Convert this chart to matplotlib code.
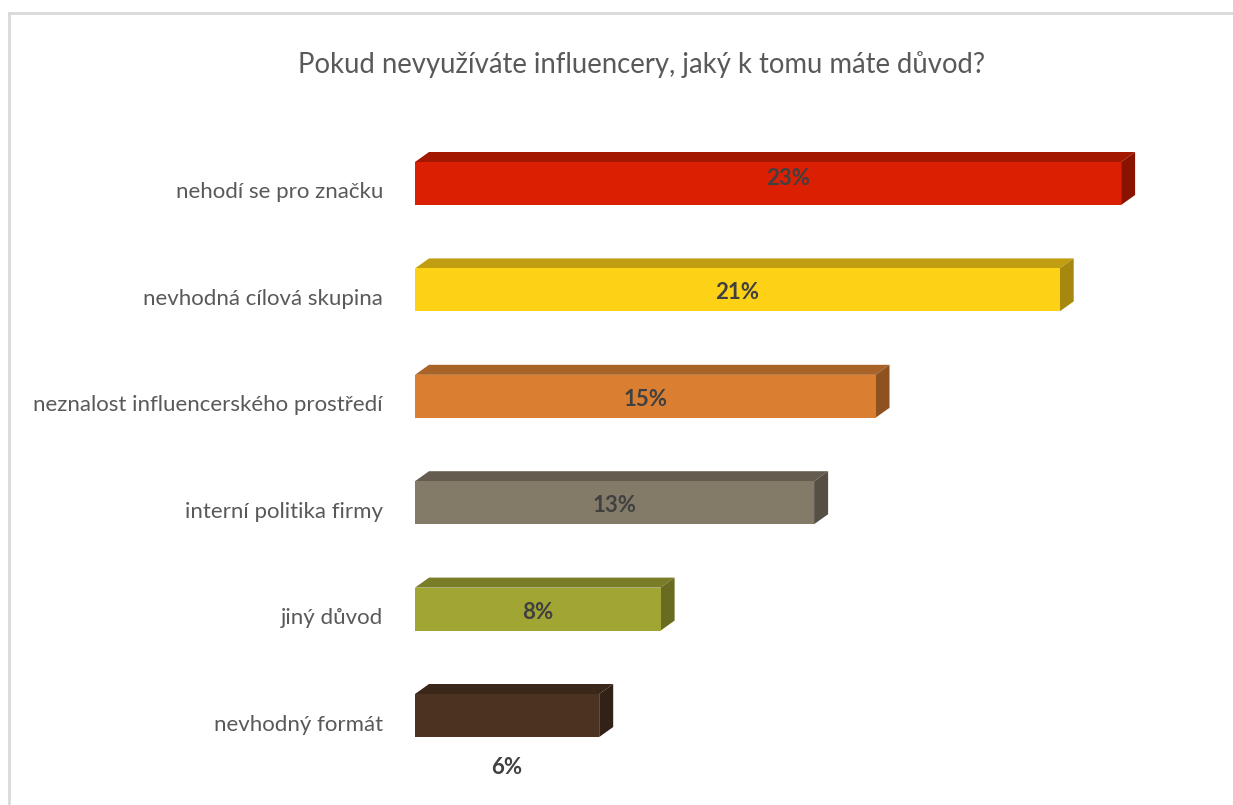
import matplotlib
matplotlib.use("Agg")
import matplotlib.pyplot as plt
from matplotlib.patches import Polygon
from matplotlib.lines import Line2D

# Survey answers: reasons for not using influencers
categories = [
    "nehodí se pro značku",
    "nevhodná cílová skupina",
    "neznalost influencerského prostředí",
    "interní politika firmy",
    "jiný důvod",
    "nevhodný formát",
]
values = [23, 21, 15, 13, 8, 6]
value_labels = ["23%", "21%", "15%", "13%", "8%", "6%"]
title = "Pokud nevyužíváte influencery, jaký k tomu máte důvod?"

# front / top / side shades for each bar
front_colors = ["#DA1F02", "#FCD116", "#DA7F32", "#837A68", "#A0A533", "#4B3221"]
top_colors = ["#A31800", "#C19D12", "#A86328", "#645C4F", "#7A7D27", "#3A2719"]
side_colors = ["#8A1300", "#A6880F", "#8E5221", "#564F43", "#686B20", "#312116"]

plt.rcParams["font.family"] = ["Lato", "DejaVu Sans"]

W, H, DPI = 1233, 805, 100
fig = plt.figure(figsize=(W / DPI, H / DPI), dpi=DPI)
fig.patch.set_facecolor("white")

# chart frame (left and top edges visible)
frame_kw = dict(color="#D9D9D9", lw=2.0, transform=fig.transFigure)
fig.add_artist(Line2D([9 / W, 9 / W], [0, 1 - 13 / H], **frame_kw))
fig.add_artist(Line2D([9 / W, 1], [1 - 13 / H, 1 - 13 / H], **frame_kw))

x_max = 26.0
px_per_unit_x = 30.7
row_px = 106.4
ax_left_px = 415
ax_top_px = 183.5 - row_px / 2
ax_w_px = x_max * px_per_unit_x
ax_h_px = row_px * len(categories)
ax = fig.add_axes([ax_left_px / W, 1 - (ax_top_px + ax_h_px) / H, ax_w_px / W, ax_h_px / H])
ax.set_xlim(0, x_max)
ax.set_ylim(len(categories) - 0.5, -0.5)
ax.axis("off")

bar_h = 43 / row_px
dx = 14 / px_per_unit_x
dy = 10 / row_px

for i, (v, fc, tc, sc) in enumerate(zip(values, front_colors, top_colors, side_colors)):
    y0 = i - bar_h / 2   # top edge of front face (y axis inverted)
    y1 = i + bar_h / 2   # bottom edge
    ax.add_patch(Polygon([(0, y0), (v, y0), (v + dx, y0 - dy), (dx, y0 - dy)],
                         closed=True, facecolor=tc, edgecolor="none"))
    ax.add_patch(Polygon([(v, y0), (v + dx, y0 - dy), (v + dx, y1 - dy), (v, y1)],
                         closed=True, facecolor=sc, edgecolor="none"))
    ax.add_patch(Polygon([(0, y0), (v, y0), (v, y1), (0, y1)],
                         closed=True, facecolor=fc, edgecolor="none"))

# category labels left of the bars
for i, cat in enumerate(categories):
    ax.annotate(cat, xy=(0, i), xycoords="data", xytext=(-32, -9),
                textcoords="offset pixels", ha="right", va="center",
                fontsize=16, color="#595959")

# value labels
label_offsets = [(20, 5), (0, -3), (0, -3), (0, -3), (0, -3), (0, -52)]
for i, (v, lab, off) in enumerate(zip(values, value_labels, label_offsets)):
    ax.annotate(lab, xy=(v / 2, i), xycoords="data", xytext=off,
                textcoords="offset pixels", ha="center", va="center",
                fontsize=16, fontweight="bold", color="#404040")

fig.text(642 / W, 1 - 65 / H, title, ha="center", va="center",
         fontsize=19.8, color="#595959")

fig.savefig("out.png", dpi=DPI, facecolor="white")
